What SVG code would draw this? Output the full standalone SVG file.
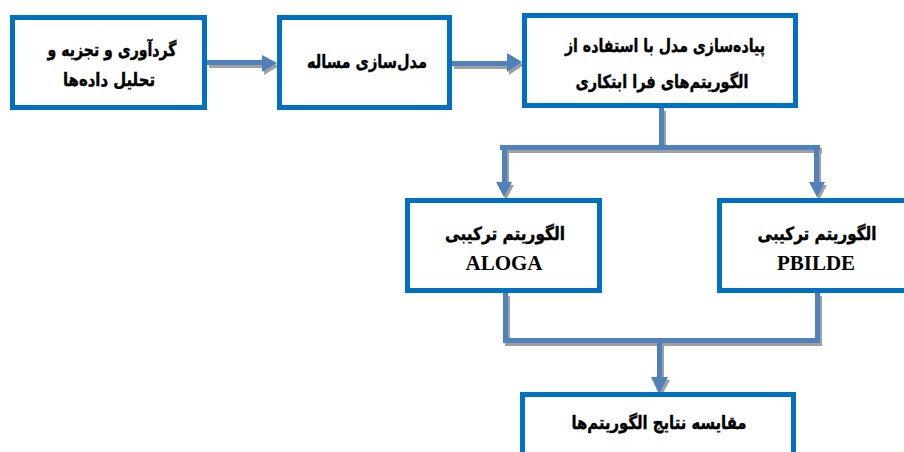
<svg xmlns="http://www.w3.org/2000/svg" xmlns:xlink="http://www.w3.org/1999/xlink" width="904" height="452" viewBox="0 0 904 452">
<style>
.box{fill:#fff;stroke:#0070C0;stroke-width:5}
.fa{font-family:"DejaVu Sans",sans-serif;font-weight:bold;font-size:18px;fill:#000;stroke:#000;stroke-width:0.4;text-anchor:middle}
.en{font-family:"Liberation Serif",serif;font-weight:bold;font-size:21px;fill:#000;text-anchor:middle}
.sh{fill:#A0A0A0}
.bl{fill:#4F81BD}
</style>
<defs>
<g id="conn">
<rect x="207" y="60" width="56" height="5"/>
<polygon points="262,55 277,63 262,72"/>
<rect x="452" y="61" width="56" height="5"/>
<polygon points="507,53 522,62 507,72"/>
<rect x="659" y="108" width="5" height="40"/>
<rect x="500" y="145" width="320" height="5"/>
<rect x="502" y="145" width="5" height="38"/>
<polygon points="496,182 512,182 504,197"/>
<rect x="814" y="145" width="5" height="38"/>
<polygon points="809,182 825,182 817,197"/>
<rect x="503" y="293" width="5" height="50"/>
<rect x="815" y="293" width="5" height="50"/>
<rect x="503" y="338" width="317" height="5"/>
<rect x="657" y="338" width="5" height="40"/>
<polygon points="651,377 668,377 659,394"/>
</g>
</defs>
<rect width="904" height="452" fill="#fff"/>
<g id="connectors">
<use xlink:href="#conn" class="sh" transform="translate(2,3)"/>
<use xlink:href="#conn" class="bl"/>
</g>
<g id="n1">
<rect class="box" x="12.5" y="17.5" width="192" height="90"/>
<text class="fa" x="112" y="56" textLength="129" lengthAdjust="spacingAndGlyphs">گردآوری و تجزیه و</text>
<text class="fa" x="109" y="86" textLength="92" lengthAdjust="spacingAndGlyphs">تحلیل داده‌ها</text>
</g>
<g id="n2">
<rect class="box" x="279.5" y="17.5" width="170" height="90"/>
<text class="fa" x="367" y="68" textLength="120" lengthAdjust="spacingAndGlyphs">مدل‌سازی مساله</text>
</g>
<g id="n3">
<rect class="box" x="524.5" y="15.5" width="271" height="90"/>
<text class="fa" x="665" y="52" textLength="200" lengthAdjust="spacingAndGlyphs">پیاده‌سازی مدل با استفاده از</text>
<text class="fa" x="662" y="88" textLength="173" lengthAdjust="spacingAndGlyphs">الگوریتم‌های فرا ابتکاری</text>
</g>
<g id="n4">
<rect class="box" x="407.5" y="200.5" width="192" height="90"/>
<text class="fa" x="505" y="240" textLength="120" lengthAdjust="spacingAndGlyphs">الگوریتم ترکیبی</text>
<text class="en" x="504" y="270">ALOGA</text>
</g>
<g id="n5">
<rect class="box" x="719.5" y="200.5" width="192" height="90"/>
<text class="fa" x="817" y="240" textLength="119" lengthAdjust="spacingAndGlyphs">الگوریتم ترکیبی</text>
<text class="en" x="816" y="270">PBILDE</text>
</g>
<g id="n6">
<rect class="box" x="522.5" y="394.5" width="271" height="90"/>
<text class="fa" x="659" y="429" textLength="175" lengthAdjust="spacingAndGlyphs">مقایسه نتایج الگوریتم‌ها</text>
</g>
</svg>
